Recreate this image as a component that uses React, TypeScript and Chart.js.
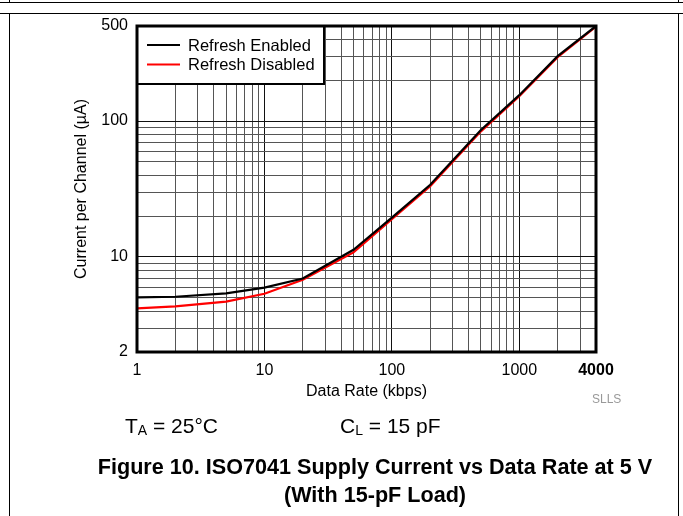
import React, { useEffect, useRef } from "react";
import { Chart, registerables } from "chart.js";

Chart.register(...registerables);

const rates = [1, 2, 5, 10, 20, 50, 100, 200, 500, 1000, 2000, 4000];
const refreshEnabled = [5.05, 5.1, 5.4, 5.95, 6.95, 11.3, 19.5, 34, 86, 155, 300, 500];
const refreshDisabled = [4.18, 4.33, 4.7, 5.36, 6.8, 10.8, 19.0, 33.2, 84, 152, 295, 495];

const xGridValues = [1, 2, 3, 4, 5, 6, 7, 8, 9, 10, 20, 30, 40, 50, 60, 70, 80, 90, 100, 200, 300, 400, 500, 600, 700, 800, 900, 1000, 2000, 3000, 4000];
const yGridValues = [2, 3, 4, 5, 6, 7, 8, 9, 10, 20, 30, 40, 50, 60, 70, 80, 90, 100, 200, 300, 400, 500];
const xTickLabels = [1, 10, 100, 1000, 4000];
const yTickLabels = [2, 10, 100, 500];
const xMajor = [1, 10, 100, 1000];
const yMajor = [10, 100];

const FONT = "'Liberation Sans', Arial, Helvetica, sans-serif";

const framePlugin = {
  id: "frameLegend",
  afterDatasetsDraw(chart: any) {
    const { ctx, chartArea: a } = chart;
    ctx.save();
    const bw = 187;
    const bh = 58;
    ctx.fillStyle = "#fff";
    ctx.fillRect(a.left, a.top, bw, bh);
    ctx.lineWidth = 2;
    ctx.strokeStyle = "#000";
    ctx.strokeRect(a.left, a.top, bw, bh);
    chart.data.datasets.forEach((ds: any, i: number) => {
      const y = a.top + 19 + i * 19.5;
      ctx.strokeStyle = ds.borderColor;
      ctx.lineWidth = 2;
      ctx.beginPath();
      ctx.moveTo(a.left + 10, y);
      ctx.lineTo(a.left + 43, y);
      ctx.stroke();
      ctx.fillStyle = "#000";
      ctx.font = "16.5px " + FONT;
      ctx.textBaseline = "middle";
      ctx.textAlign = "left";
      ctx.fillText(ds.label, a.left + 51, y + 1);
    });
    ctx.lineWidth = 3;
    ctx.strokeStyle = "#000";
    ctx.strokeRect(a.left, a.top, a.right - a.left, a.bottom - a.top);
    ctx.restore();
  },
};

function SupplyChart() {
  const ref = useRef<HTMLCanvasElement | null>(null);
  useEffect(() => {
    if (!ref.current) return;
    const chart = new Chart(ref.current, {
      type: "line",
      data: {
        datasets: [
          {
            label: "Refresh Enabled",
            data: rates.map((x, i) => ({ x, y: refreshEnabled[i] })),
            borderColor: "#000000",
            borderWidth: 2.2,
            pointRadius: 0,
            tension: 0,
          },
          {
            label: "Refresh Disabled",
            data: rates.map((x, i) => ({ x, y: refreshDisabled[i] })),
            borderColor: "#ff0000",
            borderWidth: 2.2,
            pointRadius: 0,
            tension: 0,
          },
        ],
      },
      options: {
        animation: false,
        responsive: false,
        maintainAspectRatio: false,
        layout: { padding: { left: 72, top: 26, right: 87, bottom: 115 } },
        plugins: {
          legend: { display: false },
          tooltip: { enabled: false },
        },
        scales: {
          x: {
            type: "logarithmic",
            min: 1,
            max: 4000,
            afterBuildTicks: (scale: any) => {
              scale.ticks = xGridValues.map((v) => ({ value: v }));
            },
            afterFit: (scale: any) => {
              scale.height = 49;
            },
            ticks: {
              autoSkip: false,
              maxRotation: 0,
              padding: 9,
              color: "#000",
              font: (c: any) => ({
                size: 16,
                family: FONT,
                weight: c.tick && c.tick.value === 4000 ? "bold" : "normal",
              }),
              callback: (v: any) => (xTickLabels.includes(Number(v)) ? String(v) : ""),
            },
            grid: {
              drawTicks: false,
              color: (c: any) => (c.tick && xMajor.includes(c.tick.value) ? "#111" : "#555"),
              lineWidth: 1,
            },
            border: { display: false },
            title: {
              display: true,
              text: "Data Rate (kbps)",
              color: "#000",
              font: { size: 16, family: FONT },
              padding: 0,
            },
          },
          y: {
            type: "logarithmic",
            min: 2,
            max: 500,
            afterBuildTicks: (scale: any) => {
              scale.ticks = yGridValues.map((v) => ({ value: v }));
            },
            afterFit: (scale: any) => {
              scale.width = 65;
            },
            ticks: {
              autoSkip: false,
              padding: 9,
              color: "#000",
              font: { size: 16, family: FONT },
              callback: (v: any) => (yTickLabels.includes(Number(v)) ? String(v) : ""),
            },
            grid: {
              drawTicks: false,
              color: (c: any) => (c.tick && yMajor.includes(c.tick.value) ? "#111" : "#555"),
              lineWidth: 1,
            },
            border: { display: false },
            title: {
              display: true,
              text: "Current per Channel (\u00b5A)",
              color: "#000",
              font: { size: 16, family: FONT },
              padding: 0,
            },
          },
        },
      },
      plugins: [framePlugin],
    } as any);
    return () => chart.destroy();
  }, []);
  return (
    <canvas
      ref={ref}
      width={683}
      height={516}
      style={{ position: "absolute", left: 0, top: 0, width: 683, height: 516 }}
    />
  );
}

const line = (style: React.CSSProperties): React.CSSProperties => ({
  position: "absolute",
  background: "#000",
  ...style,
});

export default function App() {
  return (
    <div
      style={{
        position: "absolute",
        left: 0,
        top: 0,
        width: 683,
        height: 516,
        overflow: "hidden",
        background: "#fff",
        fontFamily: FONT,
        color: "#000",
      }}
    >
      <div style={line({ left: 0, top: 2, width: 683, height: 1 })} />
      <div style={line({ left: 0, top: 13, width: 683, height: 1 })} />
      <div style={line({ left: 9, top: 0, width: 1, height: 2 })} />
      <div style={line({ left: 678, top: 0, width: 1, height: 2 })} />
      <div style={line({ left: 9, top: 13, width: 1, height: 503 })} />
      <div style={line({ left: 678, top: 13, width: 1, height: 503 })} />
      <SupplyChart />
      <div style={{ position: "absolute", left: 592, top: 392, fontSize: 12, color: "#999", lineHeight: "14px" }}>SLLS</div>
      <div style={{ position: "absolute", left: 125, top: 414, fontSize: 21, lineHeight: "24px", whiteSpace: "nowrap" }}>
        T<span style={{ fontSize: 14, position: "relative", top: 2 }}>A</span> = 25°C
      </div>
      <div style={{ position: "absolute", left: 340, top: 414, fontSize: 21, lineHeight: "24px", whiteSpace: "nowrap" }}>
        C<span style={{ fontSize: 14, position: "relative", top: 2 }}>L</span> = 15 pF
      </div>
      <div
        style={{
          position: "absolute",
          left: 75,
          top: 453,
          width: 600,
          textAlign: "center",
          fontSize: 21.6,
          fontWeight: "bold",
          lineHeight: "28px",
          whiteSpace: "nowrap",
        }}
      >
        Figure 10. ISO7041 Supply Current vs Data Rate at 5 V
        <br />
        (With 15-pF Load)
      </div>
    </div>
  );
}
